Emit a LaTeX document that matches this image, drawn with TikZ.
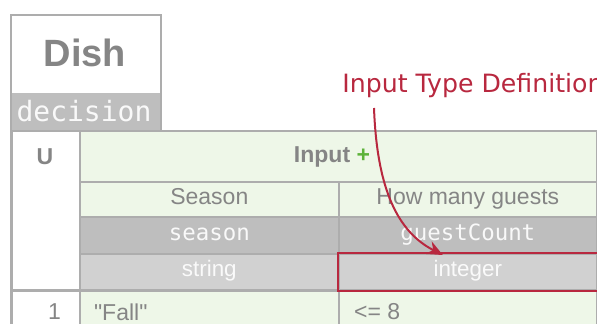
\documentclass[tikz,border=0pt]{standalone}
\usepackage{fontspec}
\setmainfont{Liberation Sans}
\setmonofont{DejaVu Sans Mono}
\newfontfamily\notefont{DejaVu Sans}
\newfontfamily\rawfont{Liberation Sans}[Ligatures=TeXOff]
\usetikzlibrary{arrows.meta}

\definecolor{gridline}{HTML}{ADADAD}
\definecolor{inputgreen}{HTML}{EEF7E8}
\definecolor{namegray}{HTML}{BEBEBE}
\definecolor{typegray}{HTML}{D1D1D1}
\definecolor{headtext}{HTML}{858585}
\definecolor{annot}{HTML}{B8283F}
\definecolor{plusgreen}{HTML}{5DB33A}

\tikzset{
  cell/.style={draw=gridline, line width=0.8pt, rectangle, inner sep=0pt, anchor=north west,
    text height=0.72em, text depth=0.2em},
  headtxt/.style={text=headtext, font=\fontsize{11.5}{13}\selectfont},
  monotxt/.style={text=white!95!gray, font=\ttfamily\fontsize{11.2}{13}\selectfont},
  annotarrow/.style={draw=annot, line width=1pt, -{Stealth[length=8pt, width=7pt]}}
}

\begin{document}
\begin{tikzpicture}[x=0.5pt, y=-0.5pt]
\useasboundingbox (0,0) rectangle (597,324);
\clip (0,0) rectangle (597,324);

% decision header
\node[cell, fill=white, line width=1pt, minimum width=75pt, minimum height=58pt] (dishbox) at (10,14) {};
\node[text=headtext, font=\bfseries\fontsize{19}{21}\selectfont] (dish) at (85,53) {Dish};
\node[cell, draw=none, fill=namegray, minimum width=74pt, minimum height=19pt] (decision) at (11,92) {};
\node[monotxt, font=\ttfamily\fontsize{14}{16}\selectfont] (decisiontxt) at (84,111) {decision};

% table header
\node[cell, fill=white, minimum width=34pt, minimum height=80pt] (hitcol) at (11,130) {};
\node[headtxt, font=\bfseries\fontsize{11.5}{13}\selectfont] (hitpolicy) at (45,157) {U};
\node[cell, fill=inputgreen, minimum width=258.5pt, minimum height=25.5pt] (inputhead) at (79,130) {};
\node[headtxt, font=\bfseries\fontsize{11.5}{13}\selectfont] (inputtxt) at (332,157) {Input \textcolor{plusgreen}{+}};

\node[cell, fill=inputgreen, headtxt, minimum width=129.5pt, minimum height=17.5pt] (seasonLabel) at (79,181) {Season};
\node[cell, fill=inputgreen, headtxt, minimum width=129pt, minimum height=17.5pt] (guestsLabel) at (338,181) {How many guests};
\node[cell, fill=namegray, monotxt, minimum width=129.5pt, minimum height=18.5pt] (seasonExpr) at (79,216) {season};
\node[cell, fill=namegray, monotxt, minimum width=129pt, minimum height=18.5pt] (guestsExpr) at (338,216) {guestCount};
\node[cell, fill=typegray, minimum width=129.5pt, minimum height=18pt, text=white!96!gray, font=\fontsize{11.2}{13}\selectfont] (seasonType) at (79,253) {string};
\node[cell, fill=typegray, minimum width=129pt, minimum height=18pt, text=white!96!gray, font=\fontsize{11.2}{13}\selectfont] (intType) at (338,253) {integer};

% first rule
\node[cell, fill=white, minimum width=34pt, minimum height=20pt] (rule1) at (11,290) {};
\node[cell, fill=inputgreen, minimum width=129.5pt, minimum height=20pt] (rule1season) at (79,290) {};
\node[cell, fill=inputgreen, minimum width=129pt, minimum height=20pt] (rule1guests) at (338,290) {};
\node[headtxt, anchor=east] (rule1num) at (68,312) {1};
\node[headtxt, anchor=west] (fall) at (87,312) {\rawfont "Fall"};
\node[headtxt, anchor=west] (upto8) at (347,312) {<= 8};

\draw[gridline, line width=1.3pt] (rule1.north west) -- (rule1guests.north east);
\draw[gridline, line width=1pt] (hitcol.north west) -- (rule1.south west);
\draw[gridline, line width=1pt] (inputhead.north east) -- (rule1guests.south east);

% annotation
\draw[annot, line width=1pt] (intType.north west) rectangle (intType.south east);
\node[anchor=base west, inner sep=0pt, text=annot, font=\notefont\fontsize{12.6}{14}\selectfont] (itd) at (342,93) {Input Type Definition};
\coordinate (arrowtail) at (374,108);
\draw[annotarrow] (arrowtail) .. controls (377,190) and (398,232) .. ([xshift=-12.5pt,yshift=-1pt]intType.north);
\end{tikzpicture}
\end{document}
